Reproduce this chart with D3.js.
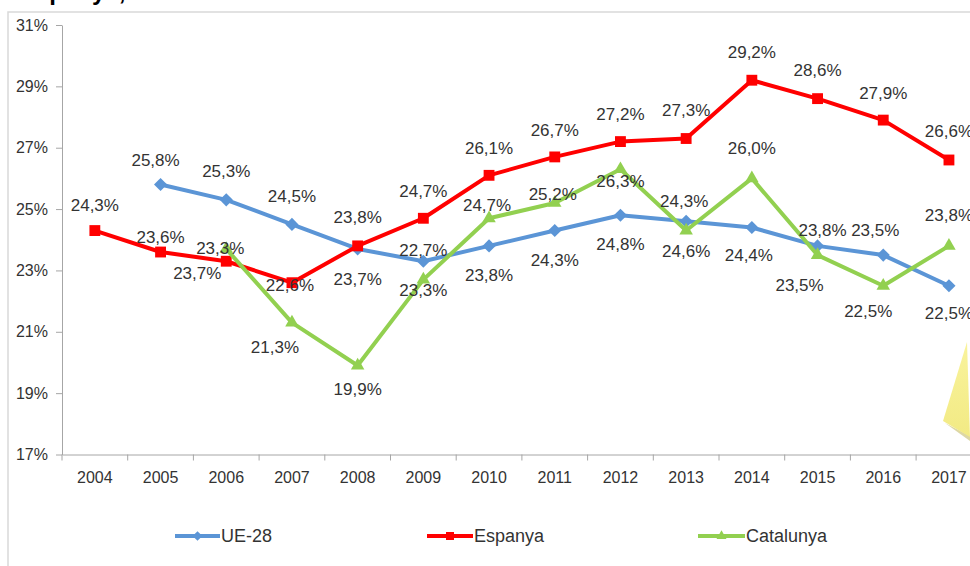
<!DOCTYPE html>
<html>
<head>
<meta charset="utf-8">
<script src="https://cdn.jsdelivr.net/npm/d3@7"></script>
<style>
  html, body { margin: 0; padding: 0; background: #fff; }
  svg { display: block; font-family: "Liberation Sans", Arial, sans-serif; }
</style>
</head>
<body>
<svg id="chart" width="970" height="566"></svg>
<script>
// ---- data ----
const years = ["2004","2005","2006","2007","2008","2009","2010","2011","2012","2013","2014","2015","2016","2017"];
const ue28      = [null, 25.8, 25.3, 24.5, 23.7, 23.3, 23.8, 24.3, 24.8, 24.6, 24.4, 23.8, 23.5, 22.5];
const espanya   = [24.3, 23.6, 23.3, 22.6, 23.8, 24.7, 26.1, 26.7, 27.2, 27.3, 29.2, 28.6, 27.9, 26.6];
const catalunya = [null, null, 23.7, 21.3, 19.9, 22.7, 24.7, 25.2, 26.3, 24.3, 26.0, 23.5, 22.5, 23.8];
const yTicks = [17, 19, 21, 23, 25, 27, 29, 31];
const seriesNames = ["UE-28", "Espanya", "Catalunya"];
const titleText = "Espanya,";

// ---- layout (label nudges in px, relative to the marker) ----
const labelNudge = {
  "UE-28":     [null, [-5,-24], [0,-28], [0,-28], [0,31], [0,29], [0,30], [0,30], [0,29], [0,30], [-3,28], [5,-15], [-8,-25], [0,28]],
  "Espanya":   [[0,-25], [0,-15], [-6,-13], [-2,3], [0,-28], [0,-27], [0,-27], [0,-26], [0,-27], [0,-28], [0,-28], [0,-28], [0,-27], [0,-28]],
  "Catalunya": [null, null, [-29,25], [-17,25], [0,24], [0,-29], [-2,-13], [-2,-8], [0,12], [-2,-29], [0,-30], [-18,30], [-15,26], [0,-30]]
};
const styles = {
  "UE-28":     { color: "#5b95d6", marker: "diamond", area: 110 },
  "Espanya":   { color: "#ff0000", marker: "square", area: 150 },
  "Catalunya": { color: "#92d050", marker: "triangle", area: 130 }
};
const values = { "UE-28": ue28, "Espanya": espanya, "Catalunya": catalunya };

const svg = d3.select("#chart");
const plotLeft = 62, plotTop = 25, plotBottom = 454.5;
const step = 65.7;

const x = d3.scaleBand().domain(years).range([plotLeft, plotLeft + step * years.length]).padding(0);
const y = d3.scaleLinear().domain([17, 31]).range([plotBottom, plotTop]);

// frame
svg.append("path").attr("d", "M8,566 V12 H970")
  .attr("fill", "none").attr("stroke", "#d9d9d9").attr("stroke-width", 1.5);

// title fragment (cropped)
svg.append("text").attr("x", 20).attr("y", 0)
  .attr("font-size", 24).attr("font-weight", "bold").attr("fill", "#000")
  .text(titleText);

// y axis
const yAxis = d3.axisLeft(y).tickValues(yTicks).tickSize(6).tickSizeOuter(0).tickPadding(8)
  .tickFormat(d => d + "%");
const gy = svg.append("g").attr("transform", `translate(${plotLeft},0)`).call(yAxis);
gy.select(".domain").attr("stroke", "#a6a6a6");
gy.selectAll(".tick line").attr("stroke", "#a6a6a6");
gy.selectAll(".tick text").attr("font-size", 16).attr("fill", "#333").attr("font-family", "Liberation Sans, Arial, sans-serif");

// x axis
const xAxis = d3.axisBottom(x).tickSize(0).tickSizeOuter(0).tickPadding(17);
const gx = svg.append("g").attr("transform", `translate(0,${plotBottom})`).call(xAxis);
gx.select(".domain").attr("stroke", "#a6a6a6");
gx.selectAll(".tick text").attr("font-size", 16).attr("fill", "#333").attr("font-family", "Liberation Sans, Arial, sans-serif");
// boundary tick marks
gx.selectAll(".bound").data(d3.range(years.length + 1)).enter().append("line")
  .attr("x1", i => plotLeft + i * x.step()).attr("x2", i => plotLeft + i * x.step())
  .attr("y1", 0).attr("y2", 6).attr("stroke", "#a6a6a6");

// marker path generator
function markerPath(type, area) {
  if (type === "diamond") return d3.symbol(d3.symbolDiamond2, area)();
  if (type === "square") return d3.symbol(d3.symbolSquare2, area)();
  return d3.symbol(d3.symbolTriangle2, area)();
}

const cx = i => x(years[i]) + x.bandwidth() / 2;

// lines + markers
seriesNames.forEach(name => {
  const vals = values[name];
  const st = styles[name];
  const pts = vals.map((v, i) => ({ i, v }));
  const line = d3.line().defined(d => d.v != null).x(d => cx(d.i)).y(d => y(d.v));
  svg.append("path").datum(pts).attr("d", line)
    .attr("fill", "none").attr("stroke", st.color).attr("stroke-width", 4)
    .attr("stroke-linejoin", "round");
  svg.append("g").selectAll("path").data(pts.filter(d => d.v != null)).enter().append("path")
    .attr("d", markerPath(st.marker, st.area))
    .attr("transform", d => `translate(${cx(d.i)},${y(d.v)})`)
    .attr("fill", st.color);
});

// data labels
const fmt = v => d3.format(".1f")(v).replace(".", ",") + "%";
seriesNames.forEach(name => {
  const vals = values[name];
  svg.append("g").selectAll("text").data(vals.map((v, i) => ({ i, v })).filter(d => d.v != null)).enter()
    .append("text")
    .attr("x", d => cx(d.i) + labelNudge[name][d.i][0])
    .attr("y", d => y(d.v) + labelNudge[name][d.i][1])
    .attr("text-anchor", "middle").attr("dominant-baseline", "central")
    .attr("font-size", 17).attr("fill", "#333")
    .text(d => fmt(d.v));
});

// legend
const legendItems = [
  { name: "UE-28", x0: 175, x1: 220 },
  { name: "Espanya", x0: 427, x1: 473 },
  { name: "Catalunya", x0: 698, x1: 745 }
];
const ly = 536;
legendItems.forEach(it => {
  const st = styles[it.name];
  const g = svg.append("g");
  g.append("line").attr("x1", it.x0).attr("x2", it.x1).attr("y1", ly).attr("y2", ly)
    .attr("stroke", st.color).attr("stroke-width", 4);
  g.append("path").attr("d", markerPath(st.marker, st.area * 0.55))
    .attr("transform", `translate(${(it.x0 + it.x1) / 2},${ly})`).attr("fill", st.color);
  g.append("text").attr("x", it.x1 + 1).attr("y", ly).attr("dominant-baseline", "central")
    .attr("font-size", 18).attr("fill", "#333").text(it.name);
});

// sticky note corner
const defs = svg.append("defs");
const grad = defs.append("linearGradient").attr("id", "note").attr("x1", 0).attr("y1", 0).attr("x2", 0).attr("y2", 1);
grad.append("stop").attr("offset", "0%").attr("stop-color", "#f9f39c");
grad.append("stop").attr("offset", "100%").attr("stop-color", "#f2ea84");
svg.append("path").attr("d", "M945,423 L970,441 L970,436 Z").attr("fill", "#cfc67e").attr("opacity", 0.7);
svg.append("path").attr("d", "M967,342 L943,421 L970,437 Z").attr("fill", "url(#note)");
</script>
</body>
</html>
